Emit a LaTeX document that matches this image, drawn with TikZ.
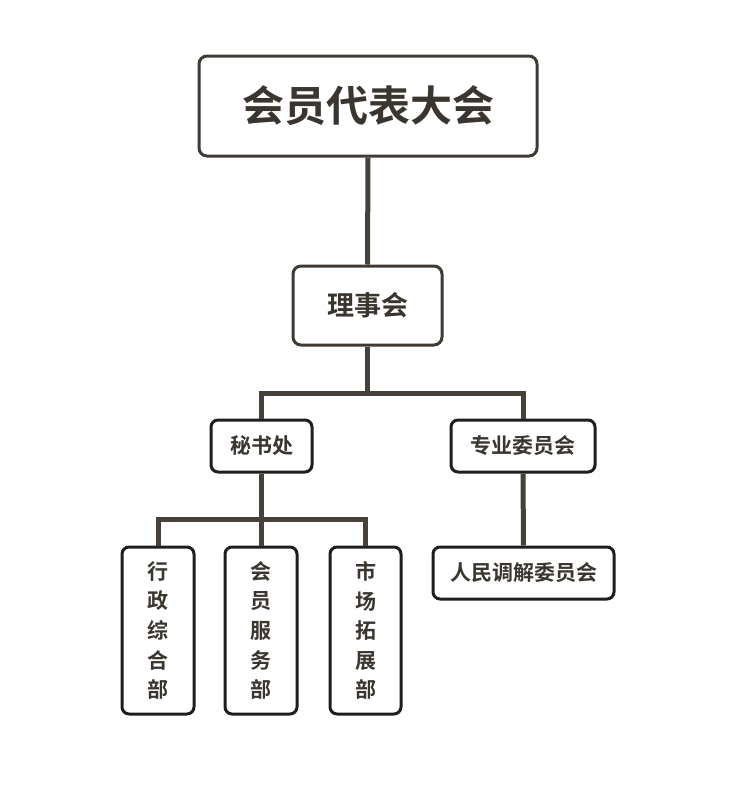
\documentclass[tikz,border=0pt]{standalone}
\usepackage{fontspec}
\newfontfamily\cjk{Noto Sans CJK SC}[BoldFont={Noto Sans CJK SC Bold}]
\definecolor{linec}{HTML}{46423A}
\definecolor{boxa}{HTML}{3F3B34}
\definecolor{boxb}{HTML}{1E1E1E}
\definecolor{txt}{HTML}{3A362F}
\begin{document}
\begin{tikzpicture}[x=1pt,y=-1pt,
  box/.style={draw=boxa, line width=3pt, rounded corners=8pt, fill=white, inner sep=0pt, text=txt, font=\cjk\bfseries},
  boxl/.style={box, draw=boxb, rounded corners=7pt},
  conn/.style={draw=linec, line width=5pt}]
\useasboundingbox[fill=white] (0,0) rectangle (737,801);
\node[box, minimum width=338pt, minimum height=100pt, font=\cjk\bfseries\fontsize{42}{46}\selectfont] (top) at (368,106) {会员代表大会};
\node[box, minimum width=149pt, minimum height=79pt, font=\cjk\bfseries\fontsize{27}{30}\selectfont] (lsh) at (367.5,305.5) {理事会};
\node[boxl, minimum width=101pt, minimum height=52pt, font=\cjk\bfseries\fontsize{21}{24}\selectfont] (msh) at (261.5,446) {秘书处};
\node[boxl, minimum width=144pt, minimum height=52pt, font=\cjk\bfseries\fontsize{21}{24}\selectfont] (zy) at (523,446) {专业委员会};
\node[boxl, minimum width=181pt, minimum height=52pt, font=\cjk\bfseries\fontsize{21}{24}\selectfont] (rm) at (523.5,573) {人民调解委员会};
\node[boxl, minimum width=72pt, minimum height=167pt, align=center, font=\cjk\bfseries\fontsize{21}{29.6}\selectfont] (b1) at (158,630.5) {行\\政\\综\\合\\部};
\node[boxl, minimum width=72pt, minimum height=167pt, align=center, font=\cjk\bfseries\fontsize{21}{29.6}\selectfont] (b2) at (261,630.5) {会\\员\\服\\务\\部};
\node[boxl, minimum width=71pt, minimum height=167pt, align=center, font=\cjk\bfseries\fontsize{21}{29.6}\selectfont] (b3) at (365.5,630.5) {市\\场\\拓\\展\\部};
\coordinate (j1) at (367.5,393);
\coordinate (j2) at (261.5,519);
\draw[conn] (top.south) -- (lsh.north);
\draw[conn] (lsh.south) -- (j1);
\draw[conn] (msh.north) |- (j1) -| (zy.north);
\draw[conn] (msh.south) -- (j2);
\draw[conn] (b1.north) |- (j2) -| (b3.north);
\draw[conn] (b2.north) -- (b2.north |- j2);
\draw[conn] (zy.south) -- (rm.north);
\end{tikzpicture}
\end{document}
